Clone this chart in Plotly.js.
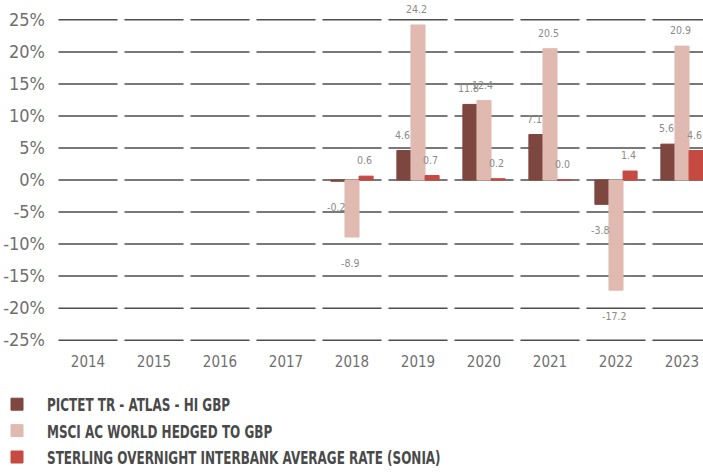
<!DOCTYPE html>
<html><head><meta charset="utf-8">
<script src="https://cdn.plot.ly/plotly-3.0.1.min.js"></script>
<style>html,body{margin:0;padding:0;overflow:hidden;background:#fff}#chart{width:720px;height:473px}</style>
</head><body><div id="chart"></div>
<script>
const years = ['2014','2015','2016','2017','2018','2019','2020','2021','2022','2023'];
const pictet = [null,null,null,null,-0.2,4.6,11.8,7.1,-3.8,5.6];
const msci = [null,null,null,null,-8.9,24.2,12.4,20.5,-17.2,20.9];
const sonia = [null,null,null,null,0.6,0.7,0.2,0.0,1.4,4.6];
const seriesNames = ['PICTET TR - ATLAS - HI GBP','MSCI AC WORLD HEDGED TO GBP','STERLING OVERNIGHT INTERBANK AVERAGE RATE (SONIA)'];
const seriesColors = ['#7d463f','#e0bab1','#c54a42'];
const yTicks = [-25,-20,-15,-10,-5,0,5,10,15,20,25];
const yTickLabels = ['-25%','-20%','-15%','-10%','-5%','0%','5%','10%','15%','20%','25%'];

const FONT = '"Liberation Sans Narrow", "Arial Narrow", "DejaVu Sans Condensed", sans-serif';
const allSeries = [pictet, msci, sonia];

const traces = allSeries.map((vals, s) => ({
  type: 'bar', x: years, y: vals, name: seriesNames[s],
  legendgroup: 'g' + s,
  marker: {color: seriesColors[s], line: {color: seriesColors[s], width: 1}},
  hoverinfo: 'skip'
}));

const shapes = [];
years.forEach((yr, i) => {
  yTicks.forEach(v => {
    shapes.push({type: 'line', xref: 'x', yref: 'y', x0: i - 0.447, x1: i + 0.447, y0: v, y1: v,
      line: {color: '#4d4d4d', width: 1.5}, layer: 'below'});
  });
});

const annotations = [];
const xShifts = [-16, -2, 12];
allSeries.forEach((vals, s) => {
  vals.forEach((v, i) => {
    if (v === null) return;
    annotations.push({xref: 'x', yref: 'y', x: i, y: v, text: v.toFixed(1), showarrow: false,
      xshift: xShifts[s], yshift: v >= 0 ? 16 : -26,
      font: {family: FONT, size: 10.5, color: '#8a8a8a'}});
  });
});

const layout = {
  width: 720, height: 473,
  margin: {l: 55, r: 5, t: 16, b: 129, autoexpand: false},
  paper_bgcolor: '#fff', plot_bgcolor: '#fff',
  barmode: 'group', bargap: 0.36, bargroupgap: 0,
  font: {family: FONT, color: '#6f6f6f'},
  xaxis: {type: 'category', range: [-0.5, 9.5], showgrid: false, zeroline: false, showline: false,
    ticks: '', tickangle: 0, ticklabelstandoff: 7, tickfont: {family: FONT, size: 15, color: '#6f6f6f'}, fixedrange: true},
  yaxis: {range: [-25.6, 25.6], tickvals: yTicks, ticktext: yTickLabels, showgrid: false, zeroline: false,
    showline: false, ticks: '', ticklabelstandoff: 9, tickfont: {family: FONT, size: 18, color: '#6f6f6f'}, fixedrange: true},
  showlegend: true,
  legend: {orientation: 'v', xref: 'paper', yref: 'container', x: (-13 - 55) / 660, y: 1 - 386/473, yanchor: 'top', xanchor: 'left',
    itemwidth: 50, tracegroupgap: 8, traceorder: 'normal',
    font: {family: FONT, size: 18, color: '#4a4a4a', weight: 'bold'}},
  shapes: shapes,
  annotations: annotations
};

Plotly.newPlot('chart', traces, layout, {displayModeBar: false, staticPlot: true}).then(gd => {
  gd.querySelectorAll('.legend text.legendtext').forEach(t => {
    const w = t.getComputedTextLength();
    t.setAttribute('textLength', (w * 0.74).toFixed(1));
    t.setAttribute('lengthAdjust', 'spacingAndGlyphs');
  });
});
</script></body></html>
